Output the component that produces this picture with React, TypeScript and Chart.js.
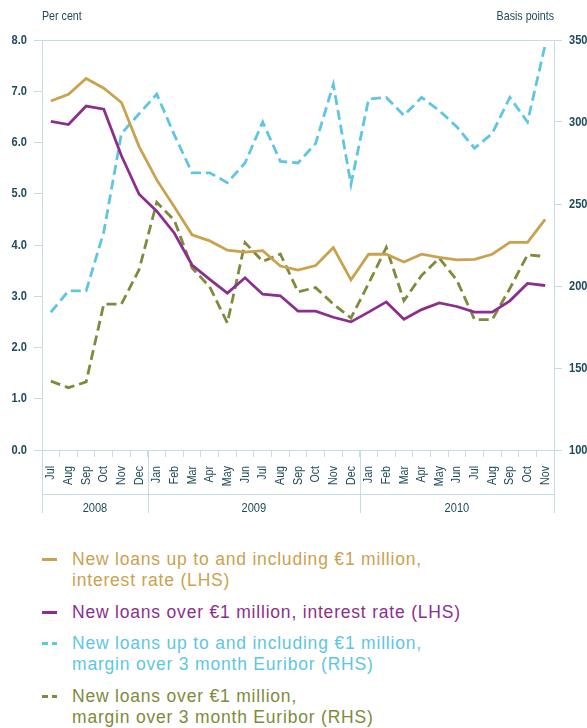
import React, { useEffect, useRef } from 'react';
import { Chart, registerables } from 'chart.js';

Chart.register(...registerables);

// ---------- data ----------
const monthLabels = [
  'Jul', 'Aug', 'Sep', 'Oct', 'Nov', 'Dec',
  'Jan', 'Feb', 'Mar', 'Apr', 'May', 'Jun', 'Jul', 'Aug', 'Sep', 'Oct', 'Nov', 'Dec',
  'Jan', 'Feb', 'Mar', 'Apr', 'May', 'Jun', 'Jul', 'Aug', 'Sep', 'Oct', 'Nov',
];
const yearLabels = ['2008', '2009', '2010'];
const yearSpans = [6, 12, 11];

// LHS, per cent
const smallLoanRate = [
  6.81, 6.94, 7.25, 7.06, 6.78, 5.92,
  5.27, 4.74, 4.2, 4.08, 3.9, 3.86, 3.89, 3.59, 3.51, 3.6, 3.95, 3.32,
  3.82, 3.82, 3.67, 3.82, 3.76, 3.71, 3.72, 3.82, 4.05, 4.05, 4.5,
];
const largeLoanRate = [
  6.41, 6.35, 6.71, 6.65, 5.74, 4.99,
  4.66, 4.23, 3.61, 3.33, 3.06, 3.36, 3.04, 3.01, 2.71, 2.71, 2.59, 2.5,
  2.69, 2.89, 2.55, 2.74, 2.87, 2.8, 2.69, 2.69, 2.91, 3.25, 3.21,
];
// RHS, basis points
const smallLoanMargin = [
  184, 197, 197, 233, 293, 305,
  317, 292, 269, 269, 263, 275, 300, 276, 275, 287, 323, 262,
  314, 315, 304, 315, 307, 297, 284, 293, 315, 300, 347,
];
const largeLoanMargin = [
  142, 138, 141.5, 189, 189, 210,
  251, 240, 211, 199.5, 177.5, 226.5, 215, 219.5, 196.5, 199, 189, 180.5,
  201.5, 223.5, 191, 206.5, 217, 203.5, 179.5, 179.5, 198.5, 219, 218,
];

const leftMin = 0;
const leftMax = 8;
const leftStep = 1;
const rightMin = 100;
const rightMax = 350;
const rightStep = 50;

const leftTitle = 'Per cent';
const rightTitle = 'Basis points';

const seriesLabels = [
  ['New loans up to and including €1 million,', 'interest rate (LHS)'],
  ['New loans over €1 million, interest rate (LHS)'],
  ['New loans up to and including €1 million,', 'margin over 3 month Euribor (RHS)'],
  ['New loans over €1 million,', 'margin over 3 month Euribor (RHS)'],
];

// ---------- styles ----------
const GOLD = '#C9A24E';
const PURPLE = '#8C2F8C';
const CYAN = '#5EC6E3';
const OLIVE = '#808A3B';
const TEXT = '#1E4A59';
const AXIS = '#C6DCE3';
const SANS = "'Liberation Sans', Arial, Helvetica, sans-serif";
const SQ = 0.82; // horizontal squeeze to imitate a condensed face

const seriesColors = [GOLD, PURPLE, CYAN, OLIVE];
const seriesDashed = [false, false, true, true];

function drawSqueezed(ctx: CanvasRenderingContext2D, text: string, x: number, y: number, align: CanvasTextAlign, angle = 0) {
  ctx.save();
  ctx.translate(x, y);
  if (angle) ctx.rotate(angle);
  ctx.scale(SQ, 1);
  ctx.textAlign = align;
  ctx.textBaseline = 'middle';
  ctx.fillText(text, 0, 0);
  ctx.restore();
}

const axisTextPlugin = {
  id: 'axisText',
  afterDraw(chart: any) {
    const { ctx, chartArea: ca, scales } = chart;
    const x = scales.x;
    const y = scales.y;
    const y1 = scales.y1;
    const half = (x.getPixelForValue(1) - x.getPixelForValue(0)) / 2;
    ctx.save();
    ctx.strokeStyle = AXIS;
    ctx.lineWidth = 1;
    // top border line
    const top = Math.round(ca.top) + 0.5;
    ctx.beginPath();
    ctx.moveTo(ca.left, top);
    ctx.lineTo(ca.right, top);
    ctx.stroke();

    ctx.fillStyle = TEXT;
    // y tick labels (left & right)
    ctx.font = `bold 13.5px ${SANS}`;
    y.ticks.forEach((t: any) => {
      drawSqueezed(ctx, Number(t.value).toFixed(1), y.right - 15, y.getPixelForValue(t.value), 'right');
    });
    y1.ticks.forEach((t: any) => {
      drawSqueezed(ctx, String(t.value), y1.left + 15, y1.getPixelForValue(t.value), 'left');
    });
    // month labels
    ctx.font = `13px ${SANS}`;
    monthLabels.forEach((m, i) => {
      drawSqueezed(ctx, m, x.getPixelForValue(i), ca.bottom + 16, 'right', -Math.PI / 2);
    });

    // year row
    const rowLine = Math.round(ca.bottom + 44) + 0.5;
    const rowEnd = ca.bottom + 63;
    const edges: number[] = [];
    let start = 0;
    ctx.font = `13.5px ${SANS}`;
    yearSpans.forEach((n, i) => {
      const l = x.getPixelForValue(start) - half;
      const r = x.getPixelForValue(start + n - 1) + half;
      if (i === 0) edges.push(l);
      edges.push(r);
      drawSqueezed(ctx, yearLabels[i], (l + r) / 2, ca.bottom + 58, 'center');
      start += n;
    });
    ctx.beginPath();
    ctx.moveTo(edges[0], rowLine);
    ctx.lineTo(edges[edges.length - 1], rowLine);
    ctx.stroke();
    edges.forEach((e) => {
      const px = Math.round(e) + 0.5;
      ctx.beginPath();
      ctx.moveTo(px, ca.bottom);
      ctx.lineTo(px, rowEnd);
      ctx.stroke();
    });
    ctx.restore();
  },
};

const HIDDEN = 'rgba(0,0,0,0)';

function ChartCanvas() {
  const ref = useRef<HTMLCanvasElement | null>(null);
  useEffect(() => {
    if (!ref.current) return;
    const datasets = [smallLoanRate, largeLoanRate, smallLoanMargin, largeLoanMargin].map((d, i) => ({
      label: seriesLabels[i].join(' '),
      data: d,
      borderColor: seriesColors[i],
      backgroundColor: seriesColors[i],
      borderWidth: 2.8,
      borderDash: seriesDashed[i] ? [10, 5] : [],
      pointRadius: 0,
      tension: 0,
      fill: false,
      yAxisID: i < 2 ? 'y' : 'y1',
    }));
    const chart = new Chart(ref.current, {
      type: 'line',
      data: { labels: monthLabels, datasets },
      options: {
        animation: false,
        responsive: true,
        maintainAspectRatio: false,
        layout: { padding: { top: 40, left: 0, right: 0, bottom: 0 } },
        plugins: { legend: { display: false }, tooltip: { enabled: false } },
        scales: {
          x: {
            type: 'category',
            offset: true,
            grid: { drawOnChartArea: false, offset: true, tickLength: 7, color: AXIS, lineWidth: 1 },
            border: { color: AXIS },
            ticks: { autoSkip: false, minRotation: 90, maxRotation: 90, color: HIDDEN, font: { size: 13 } },
            afterFit: (s: any) => { s.height = 80; },
          },
          y: {
            position: 'left',
            min: leftMin,
            max: leftMax,
            grid: { drawOnChartArea: false, tickLength: 8, color: AXIS },
            border: { color: AXIS },
            ticks: { stepSize: leftStep, color: HIDDEN },
            afterFit: (s: any) => { s.width = 42; },
          },
          y1: {
            position: 'right',
            min: rightMin,
            max: rightMax,
            grid: { drawOnChartArea: false, tickLength: 8, color: AXIS },
            border: { color: AXIS },
            ticks: { stepSize: rightStep, color: HIDDEN },
            afterFit: (s: any) => { s.width = 33; },
          },
        },
      },
      plugins: [axisTextPlugin],
    } as any);
    return () => chart.destroy();
  }, []);
  return <canvas ref={ref} />;
}

function Marker({ color, dashed }: { color: string; dashed: boolean }) {
  if (!dashed) {
    return <div style={{ width: 15, height: 3, background: color, marginTop: 9 }} />;
  }
  return (
    <div style={{ display: 'flex', gap: 4, marginTop: 9 }}>
      <div style={{ width: 5.6, height: 3, background: color }} />
      <div style={{ width: 5.6, height: 3, background: color }} />
    </div>
  );
}

const titleStyle: React.CSSProperties = {
  position: 'absolute',
  top: 8,
  font: `13px ${SANS}`,
  color: TEXT,
  lineHeight: '16px',
  whiteSpace: 'nowrap',
};

export default function App() {
  return (
    <div style={{ position: 'absolute', left: 0, top: 0, width: 587, height: 728, background: '#fff', overflow: 'hidden' }}>
      <div style={{ position: 'absolute', left: 0, top: 0, width: 587, height: 530 }}>
        <ChartCanvas />
      </div>
      <div style={{ ...titleStyle, left: 42, transform: `scaleX(${SQ})`, transformOrigin: 'left center' }}>
        {leftTitle}
      </div>
      <div style={{ ...titleStyle, right: 33, transform: `scaleX(${SQ})`, transformOrigin: 'right center' }}>
        {rightTitle}
      </div>
      <div style={{ position: 'absolute', left: 42, top: 549, display: 'flex', flexDirection: 'column', gap: 10.6 }}>
        {seriesLabels.map((lines, i) => (
          <div key={i} style={{ display: 'flex', alignItems: 'flex-start' }}>
            <div style={{ width: 30, flex: '0 0 30px' }}>
              <Marker color={seriesColors[i]} dashed={seriesDashed[i]} />
            </div>
            <div style={{ color: seriesColors[i], font: `17.5px ${SANS}`, lineHeight: '21px', letterSpacing: '0.8px', whiteSpace: 'nowrap' }}>
              {lines.map((t, j) => (
                <div key={j}>{t}</div>
              ))}
            </div>
          </div>
        ))}
      </div>
    </div>
  );
}
